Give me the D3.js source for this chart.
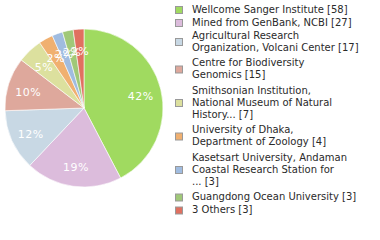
<!DOCTYPE html>
<html>
<head>
<meta charset="utf-8">
<script src="https://cdn.jsdelivr.net/npm/d3@7"></script>
<style>
  body { margin: 0; background: #fff; }
  svg { display: block; }
</style>
</head>
<body>
<svg></svg>
<script>
let labels = [
  ["Wellcome Sanger Institute [58]"],
  ["Mined from GenBank, NCBI [27]"],
  ["Agricultural Research", "Organization, Volcani Center [17]"],
  ["Centre for Biodiversity", "Genomics [15]"],
  ["Smithsonian Institution,", "National Museum of Natural", "History... [7]"],
  ["University of Dhaka,", "Department of Zoology [4]"],
  ["Kasetsart University, Andaman", "Coastal Research Station for", "... [3]"],
  ["Guangdong Ocean University [3]"],
  ["3 Others [3]"]
];
let values = [58, 27, 17, 15, 7, 4, 3, 3, 3];
let colors = ["#a0da60", "#dcbcdc", "#c8d8e4", "#dea89c", "#dce09e", "#f0b070", "#a0bce0", "#a0c878", "#e07060"];

let width = 380;
let height = 240;
let cx = 84, cy = 108, radius = 79;

let svg = d3.select("svg").attr("width", width).attr("height", height);

let total = d3.sum(values);
let pie = d3.pie().sort(null).value((d) => d);
let arcs = pie(values);
let arc = d3.arc().innerRadius(0).outerRadius(radius);
let labelArc = d3.arc().innerRadius(radius * 0.74).outerRadius(radius * 0.74);

let g = svg.append("g").attr("transform", "translate(" + cx + "," + cy + ")");

g.selectAll("path")
  .data(arcs)
  .enter()
  .append("path")
  .attr("d", arc)
  .attr("fill", (d, i) => colors[i])
  .attr("stroke", "#fff")
  .attr("stroke-width", 0.6);

g.selectAll("text")
  .data(arcs)
  .enter()
  .append("text")
  .attr("transform", (d) => "translate(" + labelArc.centroid(d) + ")")
  .attr("text-anchor", "middle")
  .attr("dy", "0.5em")
  .attr("fill", "#fff")
  .style("font-family", "DejaVu Sans")
  .style("font-size", "11px")
  .style("letter-spacing", "0.5px")
  .text((d) => Math.floor((d.data / total) * 100) + "%");

// legend
let lineH = 12;
let legend = svg.append("g").style("font-family", "DejaVu Sans").style("font-size", "10px");
let y = 3.5; // top of first entry, baseline at +9
labels.forEach((lines, i) => {
  let h = lines.length * lineH;
  let item = legend.append("g").attr("transform", "translate(0," + y + ")");
  item.append("rect")
    .attr("x", 175.5)
    .attr("y", h / 2 - 3)
    .attr("width", 7)
    .attr("height", 7)
    .attr("fill", colors[i])
    .attr("stroke", "#999")
    .attr("stroke-width", 1);
  lines.forEach((t, j) => {
    item.append("text")
      .attr("x", 192)
      .attr("y", j * lineH + 9)
      .attr("fill", "#2a2a2a")
      .text(t);
  });
  y += h + (lines.length > 1 ? 3.5 : 1);
});
</script>
</body>
</html>
